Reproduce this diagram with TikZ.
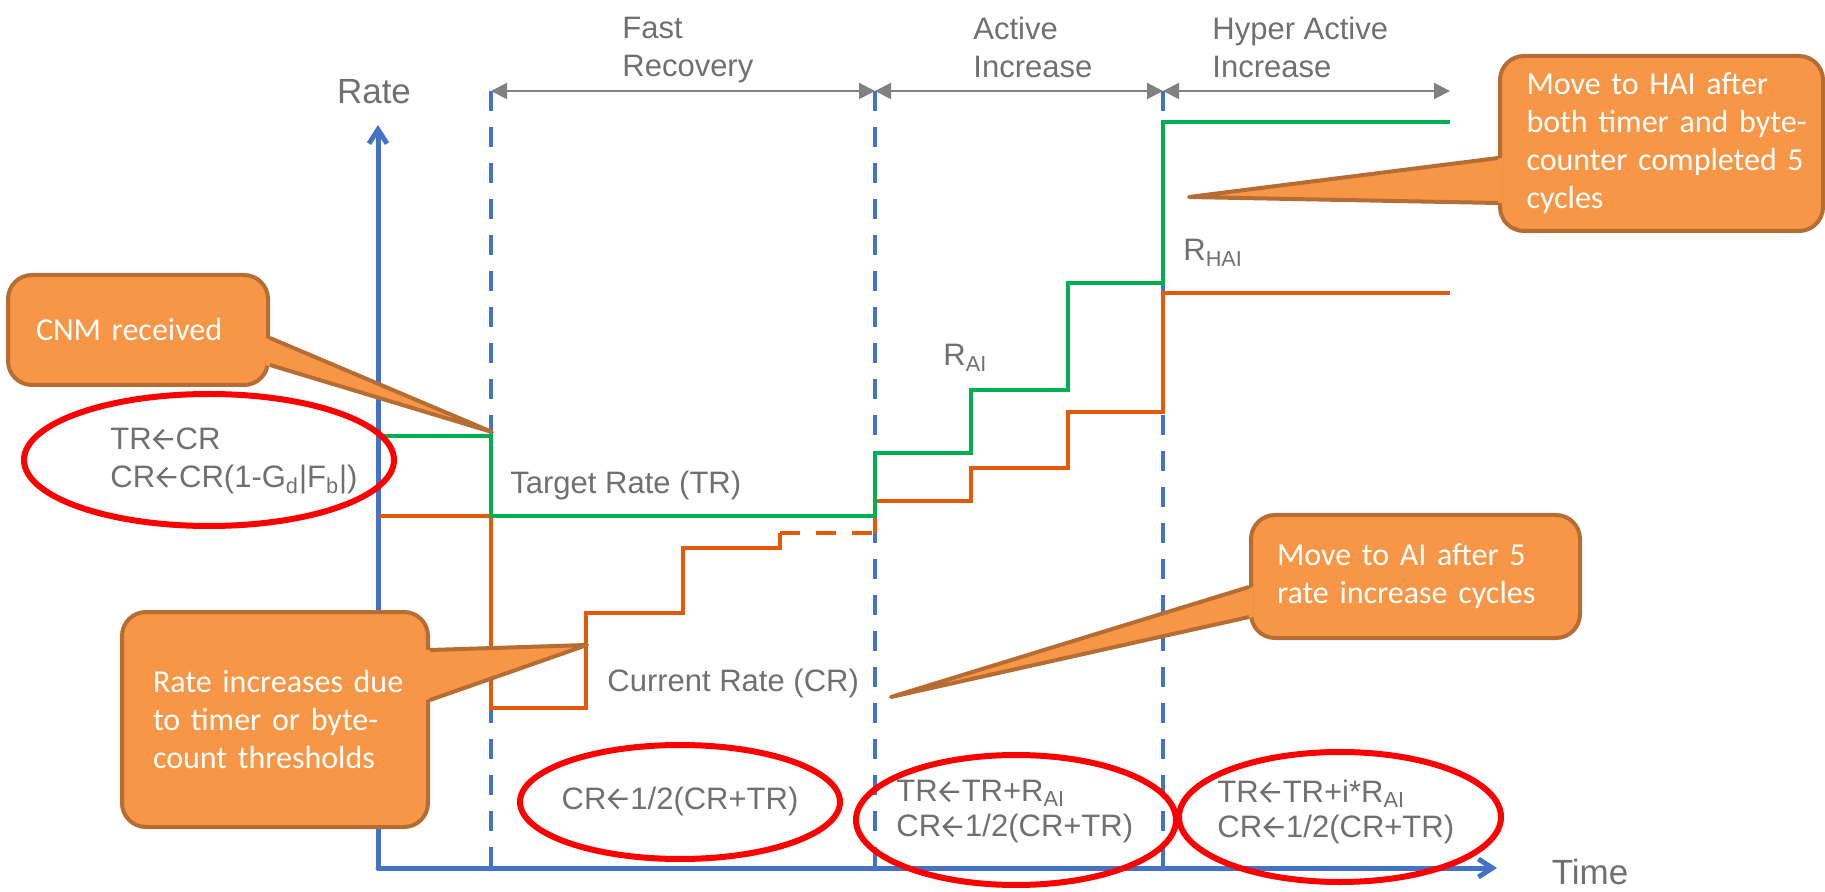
\documentclass[tikz,border=0pt]{standalone}
\usepackage{fontspec}
\setmainfont{Liberation Sans}
\newfontfamily\callfont{Carlito}
\usetikzlibrary{arrows.meta,shapes.geometric,calc}
\definecolor{textgray}{RGB}{112,112,112}
\definecolor{axisblue}{RGB}{68,114,196}
\definecolor{arrowgray}{RGB}{128,128,128}
\definecolor{trgreen}{RGB}{0,176,80}
\definecolor{crorange}{RGB}{228,90,10}
\definecolor{callfill}{RGB}{247,150,70}
\definecolor{callborder}{RGB}{182,109,52}
\definecolor{ringred}{RGB}{255,0,0}
\newcommand\larr{\kern0.05em\tikz[baseline=0pt,x=1em,y=1em]\draw[draw=textgray,line width=0.075em,line cap=butt,line join=miter,miter limit=10]
  (0.64,0.33)--(0.06,0.33) (0.34,0.64)--(0.04,0.33)--(0.34,0.02);\kern0.05em}
\begin{document}
\begin{tikzpicture}[x=0.5pt,y=-0.5pt,
  gtext/.style={text=textgray, font=\fontsize{15.5}{19}\selectfont, inner sep=0pt, align=left},
  axislab/.style={text=textgray, font=\fontsize{17.5}{21}\selectfont, inner sep=0pt},
  axisline/.style={draw=axisblue, line width=2.5pt, line cap=round, -{Straight Barb[length=7pt,width=9pt]}},
  phase/.style={draw=axisblue, line width=2pt, dash pattern=on 10pt off 8pt},
  span/.style={draw=arrowgray, line width=1pt, {Triangle[length=8pt,width=8pt]}-{Triangle[length=8pt,width=8pt]}},
  trline/.style={draw=trgreen, line width=2pt},
  crline/.style={draw=crorange, line width=2pt},
  eqring/.style={ellipse, draw=ringred, line width=3pt, inner sep=0pt},
  calloutbox/.style={draw=callborder, fill=callfill, line width=2pt, rounded corners=12pt, text=white,
    font=\callfont\fontsize{16}{19}\selectfont, align=left, inner sep=0pt},
  pointerfill/.style={fill=callfill},
  pointerline/.style={draw=callborder, line width=2pt, line join=round}
]
\useasboundingbox (0,0) rectangle (1825,892);

% axes
\coordinate (O) at (378,868);
\coordinate (Ytop) at (378,125);
\coordinate (Xend) at (1497,868);
\draw[axisline] (O) -- (Ytop);
\draw[axisline] (O) -- (Xend);
\node[axislab] (ratelab) at (374,92) {Rate};
\node[axislab] (timelab) at (1590,872) {Time};

% phase boundaries
\coordinate (p1t) at (491,91);  \coordinate (p1b) at (491,866);
\coordinate (p2t) at (875,91);  \coordinate (p2b) at (875,866);
\coordinate (p3t) at (1163,91); \coordinate (p3b) at (1163,866);
\coordinate (p4t) at (1450,91);
\draw[phase] (p1t) -- (p1b);
\draw[phase] (p2t) -- (p2b);
\draw[phase] (p3t) -- (p3b);
\draw[span] (p1t) -- (p2t);
\draw[span] (p2t) -- (p3t);
\draw[span] (p3t) -- (p4t);

\node[gtext, anchor=north west] (fr) at (622,17) {Fast\\Recovery};
\node[gtext, anchor=north west] (ai) at (973,17) {Active\\Increase};
\node[gtext, anchor=north west] (hai) at (1212,17) {Hyper Active\\Increase};

% rate curves
\draw[crline] (380,516) -- (491,516) -- (491,708) -- (586,708) -- (586,613) -- (683,613)
  -- (683,548) -- (780,548) -- (780,533);
\draw[crline, dash pattern=on 10pt off 8pt] (780,533) -- (875,533);
\draw[crline] (875,533) -- (875,501) -- (971,501) -- (971,468) -- (1068,468) -- (1068,412)
  -- (1163,412) -- (1163,293) -- (1450,293);
\draw[trline] (380,436) -- (491,436) -- (491,516) -- (875,516) -- (875,453) -- (971,453)
  -- (971,390) -- (1068,390) -- (1068,283) -- (1163,283) -- (1163,122) -- (1450,122);

\node[gtext, anchor=base west] (trlab) at (510,494) {Target Rate (TR)};
\node[gtext, anchor=base west] (crlab) at (607,691) {Current Rate (CR)};
\node[gtext, anchor=base west] (rai) at (943,366) {R\textsubscript{AI}};
\node[gtext, anchor=base west] (rhai) at (1183,261) {R\textsubscript{HAI}};

% equation rings
\node[eqring, minimum width=185pt, minimum height=66pt] (e1) at (209,460) {};
\node[eqring, minimum width=160pt, minimum height=57pt] (e2) at (680,802) {};
\node[eqring, minimum width=160pt, minimum height=65pt] (e3) at (1016,820) {};
\node[eqring, minimum width=161pt, minimum height=65pt] (e4) at (1340,817) {};
\node[gtext, anchor=west] (t1) at (110,461) {TR\larr CR\\CR\larr CR(1-G\textsubscript{d}|F\textsubscript{b}|)};
\node[gtext] (t2) at (680,801) {CR\larr 1/2(CR+TR)};
\node[gtext, anchor=west, font=\fontsize{15.5}{17.5}\selectfont] (t3) at (896,812) {TR\larr TR+R\textsubscript{AI}\\CR\larr 1/2(CR+TR)};
\node[gtext, anchor=west, font=\fontsize{15.5}{17.5}\selectfont] (t4) at (1217,812) {TR\larr TR+i*R\textsubscript{AI}\\CR\larr 1/2(CR+TR)};

% callouts
\node[calloutbox, minimum width=130pt, minimum height=55pt, text width=102pt] (c1) at (138,330) {\mbox{CNM received}};
\coordinate (c1tip) at (492,432);
\fill[pointerfill] ($(c1.east |- 0,338)+(-4,0)$) -- (c1tip) -- ($(c1.east |- 0,365)+(-4,0)$) -- cycle;
\draw[pointerline] (c1.east |- 0,338) -- (c1tip) -- (c1.east |- 0,365);

\node[calloutbox, minimum width=161.5pt, minimum height=87.5pt, text width=135pt] (c2) at (1661.5,143.5)
  {\mbox{Move to HAI after}\\\mbox{both timer and byte-}\\\mbox{counter completed 5}\\\mbox{cycles}};
\coordinate (c2tip) at (1189,197);
\fill[pointerfill] ($(c2.west |- 0,158)+(4,0)$) -- (c2tip) -- ($(c2.west |- 0,203)+(4,0)$) -- cycle;
\draw[pointerline] (c2.west |- 0,158) -- (c2tip) -- (c2.west |- 0,203);

\node[calloutbox, minimum width=164.5pt, minimum height=61.5pt, text width=138.5pt] (c3) at (1415.5,576.5)
  {\mbox{Move to AI after 5}\\\mbox{rate increase cycles}};
\coordinate (c3tip) at (891,697);
\fill[pointerfill] ($(c3.west |- 0,587)+(4,0)$) -- (c3tip) -- ($(c3.west |- 0,617)+(4,0)$) -- cycle;
\draw[pointerline] (c3.west |- 0,587) -- (c3tip) -- (c3.west |- 0,617);

\node[calloutbox, minimum width=153pt, minimum height=107.5pt, text width=122pt] (c4) at (275,719.5)
  {\mbox{Rate increases due}\\\mbox{to timer or byte-}\\\mbox{count thresholds}};
\coordinate (c4tip) at (587,645);
\fill[pointerfill] ($(c4.east |- 0,650)+(-4,0)$) -- (c4tip) -- ($(c4.east |- 0,700)+(-4,0)$) -- cycle;
\draw[pointerline] (c4.east |- 0,650) -- (c4tip) -- (c4.east |- 0,700);
\end{tikzpicture}
\end{document}
